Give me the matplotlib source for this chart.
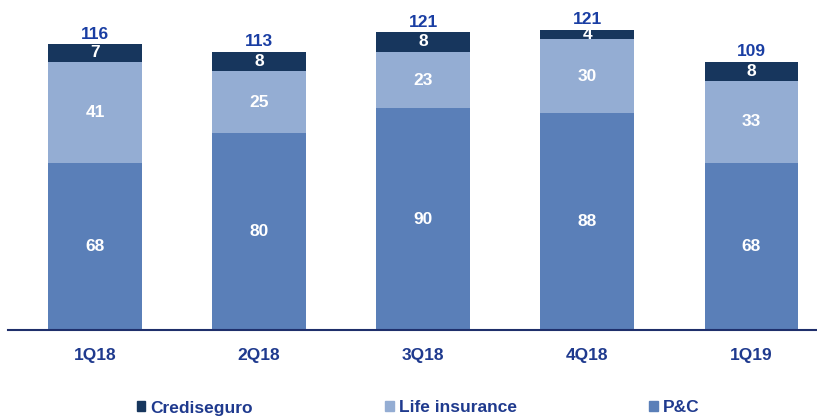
import numpy as np
import matplotlib.pyplot as plt
from matplotlib.patches import Patch

plt.rcParams['font.family'] = ['Liberation Sans', 'DejaVu Sans']
plt.rcParams['font.weight'] = 'bold'

quarters = ['1Q18', '2Q18', '3Q18', '4Q18', '1Q19']
pc = np.array([68, 80, 90, 88, 68])
life = np.array([41, 25, 23, 30, 33])
crediseguro = np.array([7, 8, 8, 4, 8])
totals = [116, 113, 121, 121, 109]

c_pc = '#5A7FB8'
c_life = '#94ADD3'
c_cred = '#17365D'
c_text = '#1A3EA3'
c_tick = '#1F3A8E'

fig = plt.figure(figsize=(8.17, 4.18), dpi=100)
ax = fig.add_axes([8 / 817, 88 / 418, 809 / 817, 330 / 418])

x = np.arange(len(quarters))
w = 0.57
ax.bar(x, pc, w, color=c_pc)
ax.bar(x, life, w, bottom=pc, color=c_life)
ax.bar(x, crediseguro, w, bottom=pc + life, color=c_cred)

fs = 12.5
for i in range(len(x)):
    ax.text(x[i], pc[i] / 2, str(pc[i]), ha='center', va='center', color='white', fontsize=fs, fontweight='bold')
    ax.text(x[i], pc[i] + life[i] / 2, str(life[i]), ha='center', va='center', color='white', fontsize=fs, fontweight='bold')
    ax.text(x[i], pc[i] + life[i] + crediseguro[i] / 2, str(crediseguro[i]), ha='center', va='center', color='white', fontsize=fs, fontweight='bold')
    ax.text(x[i], pc[i] + life[i] + crediseguro[i] + 1, str(totals[i]), ha='center', va='bottom', color=c_text, fontsize=fs, fontweight='bold')

ax.set_xlim(-0.53, 4.40)
ax.set_ylim(0, 134)
ax.set_xticks(x)
ax.set_xticklabels(quarters, color=c_tick, fontsize=fs, fontweight='bold')
ax.tick_params(axis='x', length=0, pad=13)
ax.set_yticks([])
for s in ['top', 'right', 'left']:
    ax.spines[s].set_visible(False)
ax.spines['bottom'].set_color('#1F2F6B')
ax.spines['bottom'].set_linewidth(1.5)

handles = [Patch(color=c_cred, label='Crediseguro'),
           Patch(color=c_life, label='Life insurance'),
           Patch(color=c_pc, label='P&C')]
leg = fig.legend(handles=handles, loc='center', bbox_to_anchor=(418 / 817, 10 / 418), ncol=3, frameon=False,
                 fontsize=fs, handlelength=0.5, handleheight=0.5, handletextpad=0.3, columnspacing=7.6)
for t in leg.get_texts():
    t.set_color(c_tick)
    t.set_fontweight('bold')

fig.savefig('out.png', dpi=100)
